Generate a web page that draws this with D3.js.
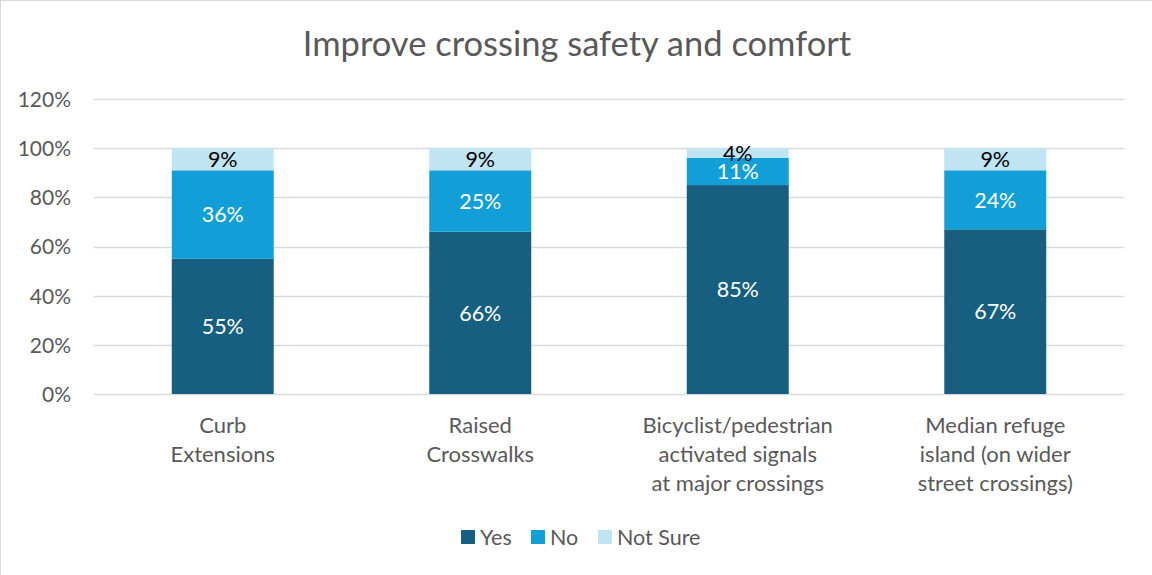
<!DOCTYPE html>
<html><head><meta charset="utf-8">
<script src="https://cdn.jsdelivr.net/npm/d3@7"></script>
<style>body{margin:0;background:#fff}svg{display:block}</style>
</head><body>
<svg id="c" width="1152" height="575"></svg>
<script>
const categories = [
  ["Curb", "Extensions"],
  ["Raised", "Crosswalks"],
  ["Bicyclist/pedestrian", "activated signals", "at major crossings"],
  ["Median refuge", "island (on wider", "street crossings)"]
];
const seriesNames = ["Yes", "No", "Not Sure"];
const yesValues = [55, 66, 85, 67];
const noValues = [36, 25, 11, 24];
const notSureValues = [9, 9, 4, 9];
const yTicks = [0, 20, 40, 60, 80, 100, 120];
const colors = ["#175f80", "#129fd7", "#c1e4f3"];
const labelColors = ["#ffffff", "#ffffff", "#000000"];
const title = "Improve crossing safety and comfort";

(function(){
const font = "Lato, 'Open Sans', sans-serif";
const svg = d3.select("#c");
svg.append("rect").attr("x",0.5).attr("y",0.5).attr("width",1160).attr("height",580)
  .attr("fill","#fff").attr("stroke","#d9d9d9");

const pLeft = 94, pRight = 1124, pTop = 99, pBottom = 394;
const x = d3.scaleBand().domain(d3.range(categories.length)).range([pLeft, pRight]).paddingInner(0.604).paddingOuter(0.302);
const y = d3.scaleLinear().domain([0, 120]).range([pBottom, pTop]);

svg.append("text").attr("x", 577).attr("y", 56).attr("text-anchor","middle")
  .attr("font-family", font).attr("font-size", 34.5).attr("fill","#595959").text(title);

svg.append("g").selectAll("line").data(yTicks).join("line")
  .attr("x1", pLeft).attr("x2", pRight)
  .attr("y1", d => Math.round(y(d))+0.5).attr("y2", d => Math.round(y(d))+0.5)
  .attr("stroke", "#d9d9d9").attr("stroke-width", 1.5);

const yAxis = d3.axisLeft(y).tickValues(yTicks).tickFormat(d => d + "%").tickSize(0).tickPadding(0);
const ga = svg.append("g").attr("transform", `translate(71,0)`).call(yAxis);
ga.select(".domain").remove();
ga.selectAll("text").attr("font-family", font).attr("font-size", 21).attr("fill", "#595959").attr("dy","0.35em");

const rows = categories.map((c, i) => ({i, Yes: yesValues[i], No: noValues[i], "Not Sure": notSureValues[i]}));
const stack = d3.stack().keys(seriesNames)(rows);

stack.forEach((s, si) => {
  const g = svg.append("g");
  g.selectAll("rect").data(s).join("rect")
    .attr("x", (d, i) => x(i)).attr("width", x.bandwidth())
    .attr("y", d => y(d[1])).attr("height", d => y(d[0]) - y(d[1]))
    .attr("fill", colors[si]);
  g.selectAll("text").data(s).join("text")
    .attr("x", (d, i) => x(i) + x.bandwidth()/2)
    .attr("y", d => (y(d[0]) + y(d[1]))/2)
    .attr("dy", "0.36em").attr("text-anchor","middle")
    .attr("font-family", font).attr("font-size", 21.5).attr("fill", labelColors[si])
    .text(d => (d[1]-d[0]) + "%");
});

const cg = svg.append("g");
categories.forEach((lines, i) => {
  const t = cg.append("text").attr("text-anchor","middle").attr("font-family", font)
    .attr("font-size", 22).attr("fill","#595959");
  lines.forEach((l, j) => {
    t.append("tspan").attr("x", x(i) + x.bandwidth()/2).attr("y", 433 + j*29).text(l);
  });
});

const legendX = [461, 531, 598];
const lg = svg.append("g");
seriesNames.forEach((n, i) => {
  lg.append("rect").attr("x", legendX[i]).attr("y", 530).attr("width", 14).attr("height", 14).attr("fill", colors[i]);
  lg.append("text").attr("x", legendX[i] + 19).attr("y", 537).attr("dy","0.36em")
    .attr("font-family", font).attr("font-size", 21.5).attr("fill","#595959").text(n);
});
})();
</script>
</body></html>
